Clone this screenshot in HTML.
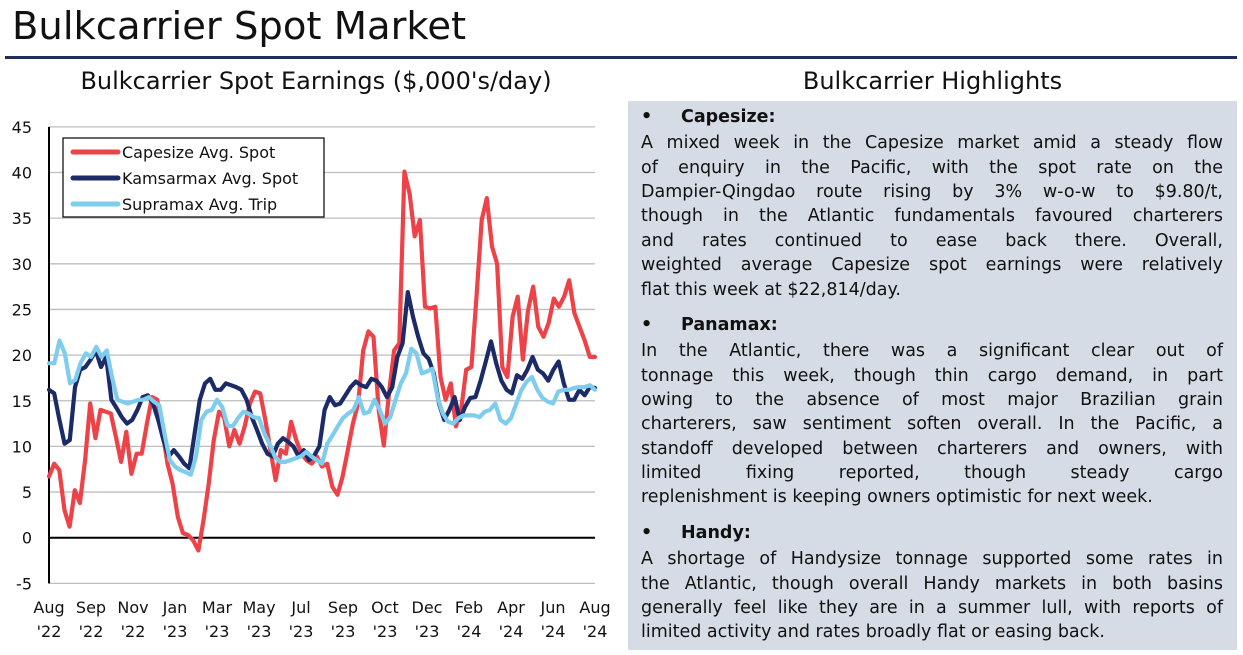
<!DOCTYPE html>
<html><head><meta charset="utf-8">
<style>
body{margin:0;width:1243px;height:655px;background:#fff;font-family:"DejaVu Sans","Liberation Sans",sans-serif;position:relative;overflow:hidden;color:#111}
.abs{position:absolute}
#title{left:12px;top:4px;font-size:38.5px;white-space:nowrap;color:#111}
#rule{left:5px;top:56px;width:1232px;height:3px;background:#1f2d5a}
.ht{font-size:24px;white-space:nowrap;text-align:center}
#panel{left:628px;top:101px;width:609px;height:549px;background:#d6dce5}
.ln{position:absolute;left:13px;width:582px;font-size:17.5px;line-height:24px;white-space:nowrap;text-align:justify;text-align-last:justify}
.ln.last{text-align-last:left}
.hd{position:absolute;left:13px;font-size:17.5px;font-weight:bold;white-space:nowrap}
.hd span{display:inline-block;width:40px}
</style></head><body>
<div class="abs" id="title">Bulkcarrier Spot Market</div>
<div class="abs" id="rule"></div>
<div class="abs ht" style="left:20px;width:592px;top:67px">Bulkcarrier Spot Earnings ($,000's/day)</div>
<div class="abs ht" style="left:628px;width:609px;top:67px">Bulkcarrier Highlights</div>

<svg class="abs" style="left:0;top:100px" width="625" height="555" id="chart"></svg>

<div class="abs" id="panel">
<div class="hd" style="top:6px"><span>•</span>Capesize:</div>
<div class="ln" style="top:30px">A mixed week in the Capesize market amid a steady flow</div>
<div class="ln" style="top:55px">of enquiry in the Pacific, with the spot rate on the</div>
<div class="ln" style="top:79px">Dampier-Qingdao route rising by 3% w-o-w to $9.80/t,</div>
<div class="ln" style="top:103px">though in the Atlantic fundamentals favoured charterers</div>
<div class="ln" style="top:128px">and rates continued to ease back there. Overall,</div>
<div class="ln" style="top:152px">weighted average Capesize spot earnings were relatively</div>
<div class="ln last" style="top:177px">flat this week at $22,814/day.</div>
<div class="hd" style="top:214px"><span>•</span>Panamax:</div>
<div class="ln" style="top:238px">In the Atlantic, there was a significant clear out of</div>
<div class="ln" style="top:263px">tonnage this week, though thin cargo demand, in part</div>
<div class="ln" style="top:287px">owing to the absence of most major Brazilian grain</div>
<div class="ln" style="top:311px">charterers, saw sentiment soften overall. In the Pacific, a</div>
<div class="ln" style="top:336px">standoff developed between charterers and owners, with</div>
<div class="ln" style="top:360px">limited fixing reported, though steady cargo</div>
<div class="ln last" style="top:384px">replenishment is keeping owners optimistic for next week.</div>
<div class="hd" style="top:422px"><span>•</span>Handy:</div>
<div class="ln" style="top:446px">A shortage of Handysize tonnage supported some rates in</div>
<div class="ln" style="top:471px">the Atlantic, though overall Handy markets in both basins</div>
<div class="ln" style="top:495px">generally feel like they are in a summer lull, with reports of</div>
<div class="ln last" style="top:519px">limited activity and rates broadly flat or easing back.</div>
</div>

<script>
const yTicks=[45,40,35,30,25,20,15,10,5,0,-5];
const xMonths=["Aug","Sep","Nov","Jan","Mar","May","Jul","Sep","Oct","Dec","Feb","Apr","Jun","Aug"];
const xYears=["'22","'22","'22","'23","'23","'23","'23","'23","'23","'23","'24","'24","'24","'24"];
const seriesNames=["Capesize Avg. Spot","Kamsarmax Avg. Spot","Supramax Avg. Trip"];
const capesize=[6.7,8.1,7.4,3,1.2,5.2,3.8,8.5,14.7,10.9,14,13.8,13.6,11,8.3,11.6,7,9.2,9.2,12.5,15.4,15.1,11.8,8.1,5.9,2.3,0.5,0.3,-0.3,-1.4,1.9,5.9,10.7,13.8,13.2,10,11.8,10.3,12.2,14.7,16,15.8,12.9,9.6,6.3,9.6,9.2,12.7,10.7,9.2,8.5,8.1,
8.9,7.8,8.1,5.6,4.7,6.7,9.6,12.5,14.7,20.5,22.6,22,14,10.1,15.8,20.5,21.3,40.1,37.7,33,34.8,25.3,25.1,25.3,17.6,15.1,16.9,12.2,14,18.4,18.7,26.4,34.8,37.2,31.9,30,18.7,17.6,24.2,26.4,19.5,24.9,27.5,23.1,22,23.5,26.2,25.3,26.4,28.2,24.6,23.1,21.6,19.8,19.8];
const kamsarmax=[16.2,15.8,12.9,10.3,10.7,16.5,18.4,18.7,19.5,20.5,18.7,19.8,15.1,14.2,13.2,12.5,12.9,14,15.4,15.6,14.7,12.9,10.7,8.9,9.6,8.9,8.1,7.6,11.4,15.1,16.9,17.4,16.2,16.2,16.9,16.7,16.5,16.2,15.1,13.2,11.8,10.3,9.2,8.9,10.3,10.9,10.5,10,8.9,9.6,8.5,9,
10,14,15.4,14.5,14.7,15.6,16.5,17.1,16.7,16.5,17.4,17.2,16.5,15.4,16.5,19.8,21.3,26.9,24.2,22,20.2,19.6,18,14.7,12.9,14,15.4,12.9,14.3,15.3,15.4,17.2,19.3,21.5,19.1,17.2,16.2,15.8,17.8,17.4,18.4,19.8,18.4,18,17.2,18.4,19.3,16.9,15.1,15.1,16.2,15.6,16.5,16.4];
const supramax=[19.1,19.1,21.6,20.2,16.9,17.3,19.1,20.2,19.8,20.9,19.8,20.5,17.6,15.1,14.9,14.7,14.9,15.1,15.1,15.4,14.9,14.5,11.4,8.5,7.8,7.4,7.2,6.9,8.9,12.9,13.8,14,15.1,14.3,12.3,12.2,13.1,13.8,13.6,13.2,13.1,11.4,10.3,8.9,8.3,8.3,8.5,8.7,8.9,9.4,8.9,8.5,
8.1,10.3,11.2,12.2,13.1,13.6,14,15.4,13.6,13.8,15.1,14,12.5,13.2,15.1,16.9,18,20.7,20.2,18,18.2,18.5,15.4,13.6,12.7,12.5,13.1,13.4,13.4,13.4,13.2,13.8,14,14.7,12.9,12.5,13.1,14.7,16.2,17.1,17.6,16.2,15.3,14.9,14.7,16,16.2,16.2,16.4,16.5,16.5,16.7,16.2];
const colors=["#ee4249","#1c2b68","#7fcdee"];

const NS="http://www.w3.org/2000/svg";
const svg=document.getElementById('chart');
const X0=49,X1=595,OY=100;
const yS=v=>(537.7-OY)-v*9.13;
function mk(tag,attrs,parent){const e=document.createElementNS(NS,tag);for(const k in attrs)e.setAttribute(k,attrs[k]);(parent||svg).appendChild(e);return e;}
yTicks.forEach(t=>{
  if(t!==0){const g=mk('line',{x1:X0,x2:X1,y1:yS(t),y2:yS(t),stroke:'#bdbdbd','stroke-width':1.3});
  
  }
  const l=mk('text',{x:32,y:yS(t)+6,'text-anchor':'end','font-size':16,fill:'#111','font-family':'DejaVu Sans, Liberation Sans, sans-serif'});
  l.textContent=t;
  
  
});
const za=mk('line',{x1:X0,x2:X1,y1:yS(0),y2:yS(0),stroke:'#000','stroke-width':2});


const ya=mk('line',{x1:X0,x2:X0,y1:yS(45),y2:yS(-5),stroke:'#000','stroke-width':2});


xMonths.forEach((m,i)=>{
  const x=X0+(X1-X0)*i/(xMonths.length-1);
  const t=mk('text',{x:x,y:513,'text-anchor':'middle','font-size':16,fill:'#111','font-family':'DejaVu Sans, Liberation Sans, sans-serif'});
  t.textContent=m;
  
  
  const t2=mk('text',{x:x,y:537,'text-anchor':'middle','font-size':16,fill:'#111','font-family':'DejaVu Sans, Liberation Sans, sans-serif'});
  t2.textContent=xYears[i];
  
  
});
[capesize,kamsarmax,supramax].forEach((s,k)=>{
  const n=s.length;
  const pts=s.map((v,i)=>(X0+(X1-X0)*i/(n-1)).toFixed(1)+','+yS(v).toFixed(1)).join(' ');
  const p=mk('polyline',{points:pts,fill:'none',stroke:colors[k],'stroke-width':4.2,'stroke-linejoin':'round','stroke-linecap':'round'});
  
  
});
const lg=mk('rect',{x:63,y:38,width:261,height:79,fill:'#fff',stroke:'#000','stroke-width':1.2});


seriesNames.forEach((nm,k)=>{
  const y=52+k*26;
  const l=mk('line',{x1:73,x2:118,y1:y,y2:y,stroke:colors[k],'stroke-width':5,'stroke-linecap':'round'});
  
  
  const t=mk('text',{x:122,y:y+6,'font-size':16,fill:'#111','font-family':'DejaVu Sans, Liberation Sans, sans-serif'});
  t.textContent=nm;
  
  
});
</script>
</body></html>
